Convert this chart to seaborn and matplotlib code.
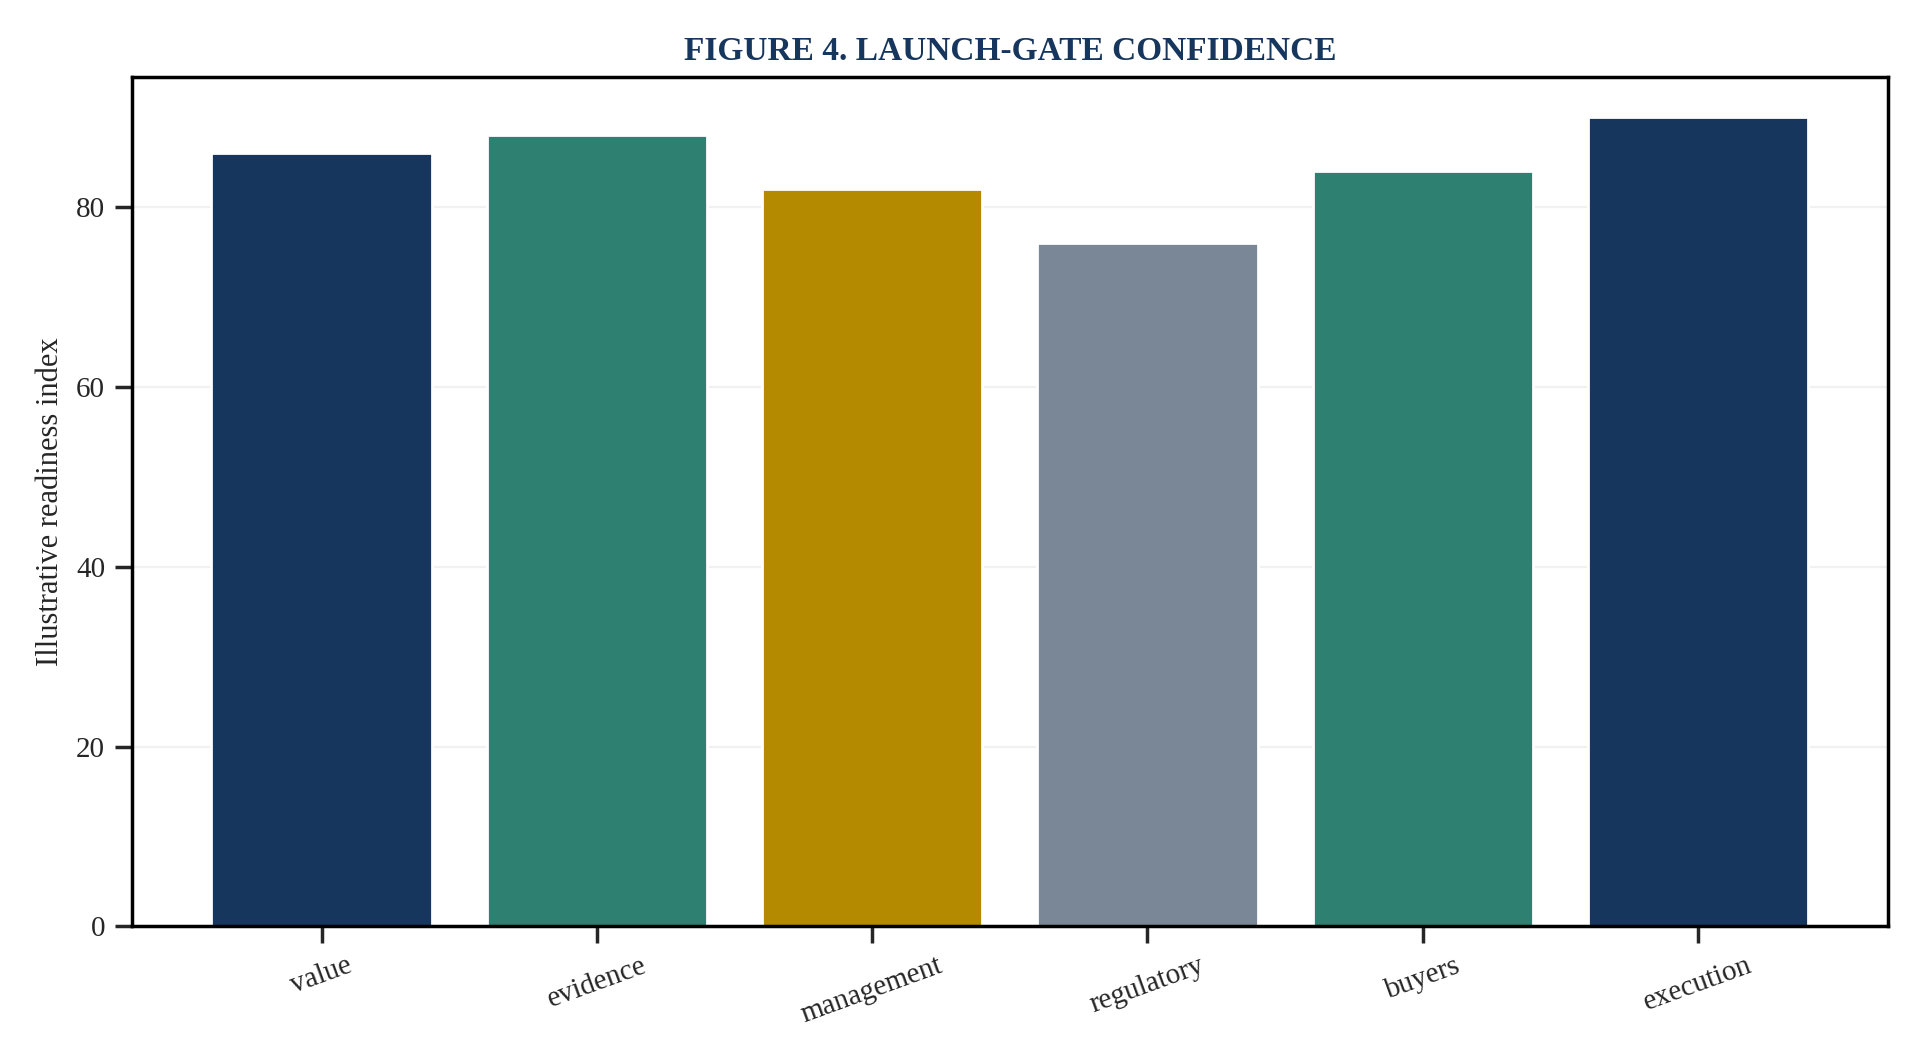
import matplotlib
matplotlib.use("Agg")
import matplotlib.pyplot as plt
import seaborn as sns
import pandas as pd

categories = ["value", "evidence", "management", "regulatory", "buyers", "execution"]
scores = [86, 88, 82, 76, 84, 90]
bar_colors = ["#17365d", "#2e8070", "#b38a00", "#7a8796", "#2e8070", "#17365d"]

sns.set_theme(style="ticks")
plt.rcParams["font.family"] = ["Liberation Serif", "DejaVu Serif"]

df = pd.DataFrame({"category": categories, "score": scores})

fig, ax = plt.subplots(figsize=(9.62, 5.32), dpi=200)
sns.barplot(data=df, x="category", y="score", hue="category", palette=bar_colors,
            legend=False, width=0.8, saturation=1, ax=ax)
ax.set_title("FIGURE 4. LAUNCH-GATE CONFIDENCE", fontsize=12, fontweight="bold", color="#17365d")
ax.set_xlabel("")
ax.set_ylabel("Illustrative readiness index", fontsize=11)
ax.set_yticks([0, 20, 40, 60, 80])
ax.set_ylim(0, 94.5)
ax.grid(axis="y", color="#dddddd", linewidth=0.8, alpha=0.4)
ax.tick_params(axis="x", rotation=20, labelsize=10.5)
ax.tick_params(axis="y", labelsize=10.5)
for s in ax.spines.values():
    s.set_visible(True)
    s.set_color("black")
ax.set_xlim(-0.69, 5.69)
plt.tight_layout()
plt.savefig("out.png", dpi=200)
